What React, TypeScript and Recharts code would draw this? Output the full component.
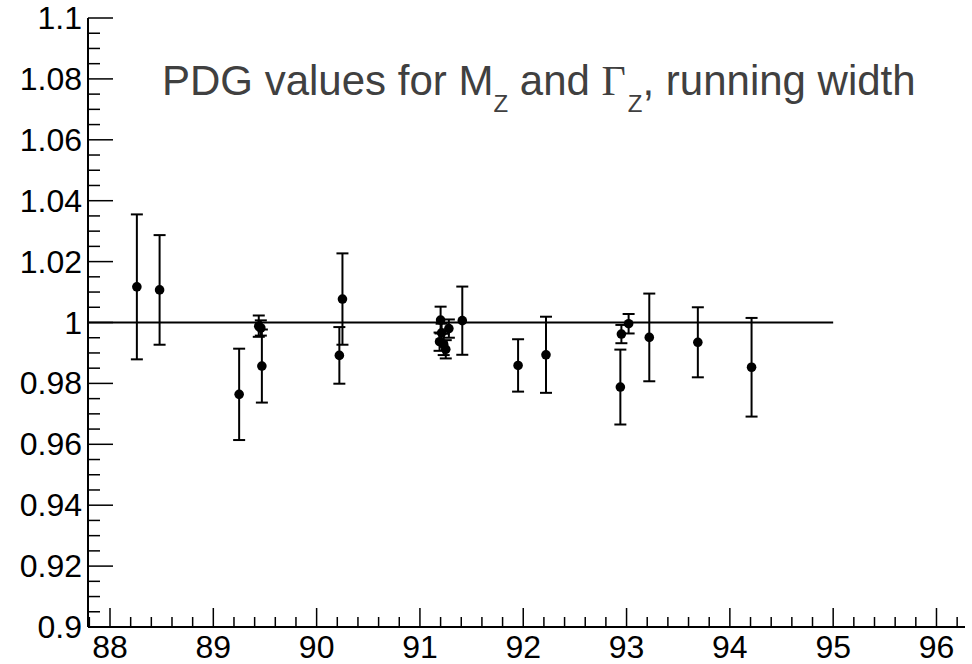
import { ErrorBar, ReferenceLine, Scatter, ScatterChart, XAxis, YAxis } from "recharts";

// Z lineshape scan points: sqrt(s) in GeV, ratio and its uncertainty
const massGeV = [
  88.26, 88.48, 89.25, 89.44, 89.46, 89.47, 90.22, 90.25, 91.19, 91.2, 91.21, 91.23,
  91.25, 91.28, 91.41, 91.95, 92.22, 92.94, 92.95, 93.02, 93.22, 93.69, 94.21,
];
const ratio = [
  1.0117, 1.0107, 0.9764, 0.9988, 0.9982, 0.9857, 0.9892, 1.0077, 0.9937, 1.0008, 0.9966,
  0.9928, 0.9912, 0.998, 1.0006, 0.9859, 0.9894, 0.9788, 0.9962, 0.9996, 0.9951, 0.9935,
  0.9853,
];
const ratioErr = [
  0.0238, 0.018, 0.015, 0.0035, 0.0025, 0.012, 0.0093, 0.015, 0.003, 0.0044, 0.003,
  0.0035, 0.003, 0.003, 0.0112, 0.0086, 0.0125, 0.0123, 0.003, 0.0032, 0.0144, 0.0115,
  0.0162,
];

const X_DOMAIN: [number, number] = [87.787, 96.276];
const Y_DOMAIN: [number, number] = [0.9, 1.1];
const LINE_END = 95;

// plot frame in page pixels
const W = 972;
const H = 664;
const LEFT = 88;
const RIGHT = 965;
const TOP = 18;
const BOTTOM = 627;

const FONT = "'Liberation Sans', Arial, Helvetica, sans-serif";

const xTicks: number[] = [];
for (let i = 0; i <= 42; i++) xTicks.push(Math.round((87.8 + i * 0.2) * 10) / 10);
const yTicks: number[] = [];
for (let i = 0; i <= 40; i++) yTicks.push(Math.round((0.9 + i * 0.005) * 1000) / 1000);

const isMajorX = (v: number) => Math.abs(v - Math.round(v)) < 1e-6;
const isMajorY = (v: number) => Math.abs(v * 50 - Math.round(v * 50)) < 1e-6;

const points = massGeV.map((x, i) => ({ x, y: ratio[i], err: ratioErr[i] }));

function BottomTick(props: any) {
  const { x, payload } = props;
  const v = payload.value as number;
  const major = isMajorX(v);
  return (
    <g>
      <line x1={x} x2={x} y1={BOTTOM} y2={BOTTOM - (major ? 19 : 10)} stroke="#000" strokeWidth={1.5} />
      {major && (
        <text x={x} y={658} textAnchor="middle" fontSize={32} fontFamily={FONT} fill="#000">
          {v}
        </text>
      )}
    </g>
  );
}

function TopTick(props: any) {
  const { x, payload } = props;
  const major = isMajorX(payload.value);
  return <line x1={x} x2={x} y1={TOP} y2={TOP + (major ? 19 : 10)} stroke="#000" strokeWidth={1.5} />;
}

function LeftTick(props: any) {
  const { y, payload } = props;
  const v = payload.value as number;
  const major = isMajorY(v);
  return (
    <g>
      <line x1={LEFT} x2={LEFT + (major ? 25 : 12)} y1={y} y2={y} stroke="#000" strokeWidth={1.5} />
      {major && (
        <text x={82} y={y} dy={11} textAnchor="end" fontSize={32} fontFamily={FONT} fill="#000">
          {String(parseFloat(v.toFixed(2)))}
        </text>
      )}
    </g>
  );
}

function RightTick(props: any) {
  const { y, payload } = props;
  const major = isMajorY(payload.value);
  return <line x1={RIGHT} x2={RIGHT - (major ? 25 : 12)} y1={y} y2={y} stroke="#000" strokeWidth={1.5} />;
}

const Dot = (props: any) => <circle cx={props.cx} cy={props.cy} r={4.8} fill="#000" />;

export default function App() {
  return (
    <div style={{ position: "absolute", left: 0, top: 0, width: W, height: H, background: "#fff" }}>
      <ScatterChart width={W} height={H} margin={{ top: TOP, right: W - RIGHT, bottom: 0, left: 0 }}>
        <XAxis
          xAxisId="b"
          type="number"
          dataKey="x"
          domain={X_DOMAIN}
          ticks={xTicks}
          interval={0}
          allowDataOverflow
          height={H - BOTTOM}
          tickLine={false}
          axisLine={{ stroke: "#000", strokeWidth: 2 }}
          tick={<BottomTick />}
        />
        <XAxis
          xAxisId="t"
          orientation="top"
          type="number"
          dataKey="x"
          domain={X_DOMAIN}
          ticks={xTicks}
          interval={0}
          allowDataOverflow
          height={0}
          tickLine={false}
          axisLine={{ stroke: "#000", strokeWidth: 2 }}
          tick={<TopTick />}
        />
        <YAxis
          yAxisId="l"
          type="number"
          dataKey="y"
          domain={Y_DOMAIN}
          ticks={yTicks}
          interval={0}
          allowDataOverflow
          width={LEFT}
          tickLine={false}
          axisLine={{ stroke: "#000", strokeWidth: 2 }}
          tick={<LeftTick />}
        />
        <YAxis
          yAxisId="r"
          orientation="right"
          type="number"
          dataKey="y"
          domain={Y_DOMAIN}
          ticks={yTicks}
          interval={0}
          allowDataOverflow
          width={0}
          tickLine={false}
          axisLine={{ stroke: "#000", strokeWidth: 2 }}
          tick={<RightTick />}
        />
        <ReferenceLine
          xAxisId="b"
          yAxisId="l"
          segment={[
            { x: X_DOMAIN[0], y: 1 },
            { x: LINE_END, y: 1 },
          ]}
          stroke="#000"
          strokeWidth={2}
        />
        <Scatter xAxisId="b" yAxisId="l" data={points} shape={<Dot />} isAnimationActive={false}>
          <ErrorBar dataKey="err" direction="y" width={6} stroke="#000" strokeWidth={2} isAnimationActive={false} />
        </Scatter>
      </ScatterChart>
      <svg width={W} height={H} style={{ position: "absolute", left: 0, top: 0, pointerEvents: "none" }}>
        <text x={162} y={95} fontSize={42} fontFamily={FONT} fill="#404040">
          PDG values for M
          <tspan fontSize={24} dx={0} dy={17}>Z</tspan>
          <tspan dy={-17}> and </tspan>
          <tspan fontFamily="'Liberation Serif', 'Times New Roman', serif">Γ</tspan>
          <tspan fontSize={24} dx={2} dy={17}>Z</tspan>
          <tspan dy={-17}>, running width</tspan>
        </text>
      </svg>
    </div>
  );
}
